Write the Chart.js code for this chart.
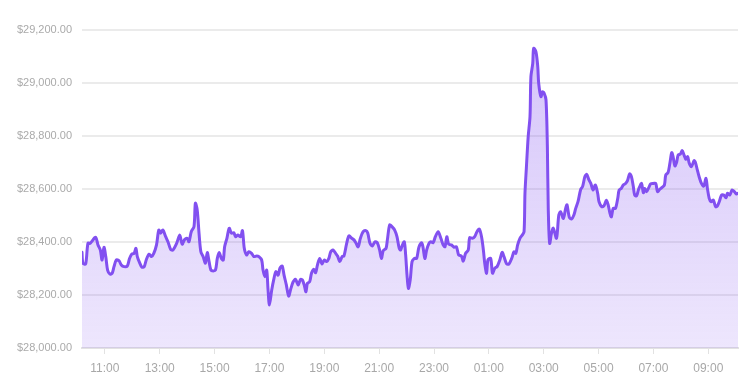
<!DOCTYPE html>
<html>
<head>
<meta charset="utf-8">
<script src="https://cdn.jsdelivr.net/npm/chart.js@4/dist/chart.umd.min.js"></script>
<style>
  html, body { margin:0; padding:0; background:#fff; }
  #wrap { width:748px; height:380px; }
</style>
</head>
<body>
<div id="wrap"><canvas id="priceChart" width="748" height="380"></canvas></div>
<script>
// price samples (times run past midnight)
const times = [
  "10:10","10:12","10:18","10:23","10:28","10:34","10:40","10:45","10:50","10:54","10:58",
  "11:02","11:06","11:11","11:16","11:20","11:25","11:31","11:36","11:42","11:49","11:54","11:59",
  "12:04","12:08","12:11","12:16","12:21","12:26","12:31","12:37","12:42","12:47","12:53","12:58",
  "13:02","13:07","13:13","13:18","13:24","13:29","13:37","13:44","13:49","13:55",
  "14:00","14:04","14:09","14:15","14:18","14:22","14:26","14:30","14:35","14:40","14:44","14:48","14:52","14:57",
  "15:02","15:06","15:10","15:15","15:19","15:22","15:27","15:32","15:37","15:42","15:46","15:51","15:57",
  "16:01","16:05","16:10","16:15","16:21","16:26","16:32","16:37","16:43","16:46","16:50","16:54","16:57",
  "17:00","17:05","17:10","17:14","17:19","17:23","17:28","17:32","17:37","17:42","17:47","17:52","17:57",
  "18:03","18:08","18:12","18:16","18:20","18:23","18:28","18:32","18:37","18:41","18:45","18:50","18:55",
  "19:00","19:05","19:10","19:14","19:19","19:25","19:29","19:34","19:39","19:43","19:49","19:54",
  "20:00","20:05","20:09","20:14","20:19","20:25","20:31","20:35","20:40","20:45","20:51","20:56",
  "21:01","21:05","21:09","21:15","21:18","21:23","21:28","21:34","21:39","21:44","21:47","21:51","21:55","21:58",
  "22:01","22:04","22:08","22:12","22:17","22:22","22:27","22:33","22:36","22:40","22:44","22:49","22:53","22:58",
  "23:03","23:09","23:15","23:20","23:24","23:28","23:32","23:38","23:44","23:49","23:54",
  "00:00","00:04","00:09","00:15","00:18","00:24","00:29","00:34","00:39","00:44","00:48","00:51","00:55","00:58",
  "01:04","01:08","01:13","01:18","01:24","01:29","01:33","01:39","01:44","01:50","01:55","01:59",
  "02:03","02:08","02:13","02:17","02:19","02:22","02:26","02:30","02:32","02:36","02:38","02:43","02:47","02:49","02:54","02:57",
  "03:01","03:05","03:08","03:10","03:13","03:17","03:21","03:28","03:33","03:37","03:43","03:48","03:51","03:56",
  "04:01","04:06","04:10","04:15","04:21","04:25","04:30","04:34","04:39","04:43","04:48","04:53","04:58",
  "05:01","05:07","05:12","05:17","05:21","05:25","05:28","05:32","05:37","05:42","05:45","05:50","05:54","05:59",
  "06:03","06:08","06:12","06:16","06:19","06:23","06:27","06:30","06:34","06:38","06:41","06:45","06:50","06:54",
  "07:00","07:05","07:09","07:14","07:19","07:24","07:27","07:32","07:36","07:40","07:43","07:47","07:51","07:54","07:59",
  "08:03","08:07","08:11","08:15","08:18","08:23","08:29","08:32","08:36","08:40","08:45","08:50","08:55","08:58",
  "09:02","09:06","09:11","09:16","09:20","09:24","09:29","09:34","09:39","09:42","09:47","09:52","09:57",
  "10:02","10:05"
];
const prices = [
  28361,28320,28317,28395,28395,28408,28418,28389,28370,28332,28380,
  28345,28294,28279,28282,28307,28332,28329,28313,28307,28309,28338,28355,
  28357,28376,28345,28322,28305,28307,28335,28354,28345,28357,28389,28445,
  28433,28445,28420,28401,28372,28370,28395,28426,28392,28410,
  28414,28401,28439,28458,28546,28521,28433,28363,28345,28320,28360,28326,28294,28291,
  28294,28338,28360,28338,28332,28382,28414,28452,28433,28435,28420,28426,28420,
  28443,28376,28351,28363,28357,28345,28347,28345,28332,28294,28269,28294,28219,
  28162,28219,28263,28288,28275,28301,28309,28275,28238,28196,28225,28250,28259,
  28238,28259,28257,28238,28212,28244,28250,28282,28297,28284,28313,28338,28317,
  28332,28326,28338,28363,28370,28357,28347,28326,28345,28347,28395,28423,
  28414,28408,28397,28382,28414,28439,28443,28434,28395,28385,28401,28397,
  28370,28338,28367,28376,28408,28464,28458,28445,28420,28376,28370,28389,28401,28351,
  28275,28225,28257,28326,28338,28338,28380,28397,28380,28338,28370,28395,28401,28397,
  28420,28439,28414,28389,28382,28420,28392,28389,28380,28382,28351,
  28347,28328,28357,28370,28416,28414,28420,28439,28449,28420,28370,28320,28282,28332,
  28338,28282,28301,28307,28332,28361,28345,28317,28317,28338,28363,28357,
  28389,28414,28426,28439,28584,28678,28797,28873,29024,29074,29131,29118,29061,28999,28948,28967,
  28961,28936,28760,28521,28395,28433,28452,28414,28502,28514,28489,28527,28540,28493,
  28487,28502,28527,28552,28599,28609,28646,28655,28634,28621,28596,28615,28584,
  28552,28533,28537,28558,28540,28508,28495,28527,28527,28565,28596,28603,28615,28621,
  28631,28657,28646,28609,28577,28574,28596,28609,28621,28586,28602,28590,28606,28619,
  28621,28621,28590,28599,28606,28615,28653,28662,28697,28737,28722,28687,28703,28728,28732,
  28745,28728,28712,28722,28699,28684,28707,28699,28672,28646,28621,28611,28640,28603,
  28565,28552,28558,28533,28536,28552,28577,28577,28567,28584,28577,28596,28590,
  28581,28584
];
const tickLabels = ["11:00","13:00","15:00","17:00","19:00","21:00","23:00","01:00","03:00","05:00","07:00","09:00"];
const yMin = 28000, yMax = 29200, yStep = 200;
const xStart = "10:10", xEnd = "10:05";

// "HH:MM" list -> minutes, adding a day whenever the clock wraps
function toMinutes(list, startAt){
  let prev = -1, offset = 0;
  if(startAt){ const p = startAt.split(":"); prev = (+p[0])*60 + (+p[1]); }
  return list.map(s=>{
    const p = s.split(":");
    const m = (+p[0])*60 + (+p[1]);
    if(m < prev) offset += 1440;
    prev = m;
    return m + offset;
  });
}

const xs = toMinutes(times);
const tickVals = toMinutes(tickLabels, xStart);
const xMin = xs[0];
const xMax = toMinutes([xStart, xEnd])[1];
const points = xs.map((x,i)=>({x, y:prices[i]}));

const lineColor = "rgb(130, 80, 240)";
const font = "'Liberation Sans', Arial, Helvetica, sans-serif";

new Chart(document.getElementById("priceChart"), {
  type: "line",
  data: {
    datasets: [{
      data: points,
      borderColor: lineColor,
      borderWidth: 3,
      borderJoinStyle: "round",
      borderCapStyle: "round",
      pointRadius: 0,
      tension: 0.3,
      fill: "start",
      backgroundColor: (ctx)=>{
        const area = ctx.chart.chartArea;
        if(!area) return "rgba(130,80,240,0.2)";
        const g = ctx.chart.ctx.createLinearGradient(0, area.top, 0, area.bottom);
        g.addColorStop(0, "rgba(130,80,240,0.34)");
        g.addColorStop(1, "rgba(130,80,240,0.14)");
        return g;
      }
    }]
  },
  options: {
    responsive: false,
    animation: false,
    layout: { padding: { top: 30, right: 10, bottom: 0, left: 0 } },
    plugins: { legend: { display: false }, tooltip: { enabled: false } },
    scales: {
      x: {
        type: "linear",
        min: xMin,
        max: xMax,
        afterBuildTicks: (s)=>{ s.ticks = tickVals.map(v=>({value:v})); },
        afterFit: (s)=>{ s.height = 32; },
        border: { display: true, color: "#e2e2e2", width: 2 },
        grid: { drawOnChartArea: false, drawTicks: true, tickLength: 6, color: "#e2e2e2", lineWidth: 1 },
        ticks: {
          autoSkip: false,
          maxRotation: 0,
          padding: 7,
          color: "#a8a8a8",
          font: { family: font, size: 12 },
          callback: (v)=>{ const i = tickVals.indexOf(v); return i >= 0 ? tickLabels[i] : ""; }
        }
      },
      y: {
        min: yMin,
        max: yMax,
        afterFit: (s)=>{ s.width = 82; },
        border: { display: false },
        grid: { color: "#ebebeb", lineWidth: 2, drawTicks: false },
        ticks: {
          stepSize: yStep,
          padding: 10,
          color: "#aaaaaa",
          font: { family: font, size: 11 },
          callback: (v)=>"$" + v.toLocaleString("en-US", {minimumFractionDigits:2, maximumFractionDigits:2})
        }
      }
    }
  }
});
</script>
</body>
</html>
